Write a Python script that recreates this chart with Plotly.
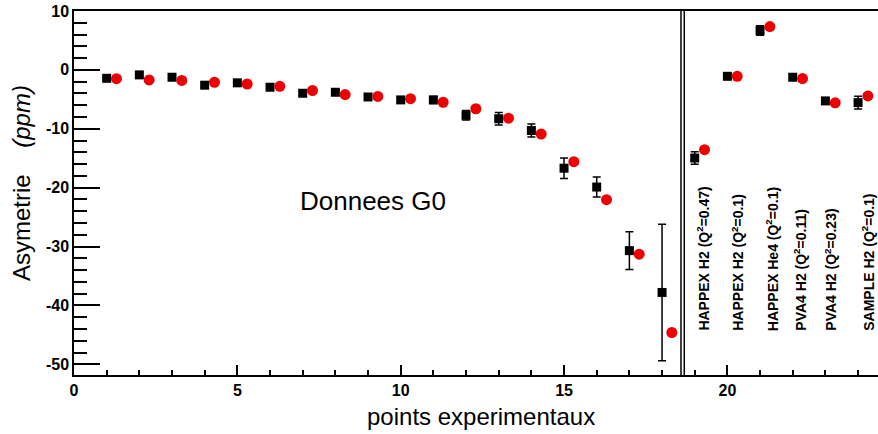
import plotly.graph_objects as go

# ---------------- data ----------------
points = list(range(1, 25))
asym_data = [-1.43, -0.85, -1.25, -2.6, -2.2, -2.95, -3.97, -3.8, -4.6, -5.1, -5.1, -7.7,
             -8.3, -10.3, -16.7, -19.9, -30.7, -37.8,
             -14.97, -1.09, 6.68, -1.25, -5.27, -5.56]
asym_err = [0.3, 0.3, 0.3, 0.35, 0.35, 0.4, 0.4, 0.45, 0.5, 0.55, 0.6, 0.8,
            1.05, 1.1, 1.75, 1.7, 3.2, 11.6,
            1.05, 0.4, 0.8, 0.4, 0.5, 1.1]
asym_model = [-1.5, -1.7, -1.8, -2.1, -2.4, -2.8, -3.5, -4.2, -4.5, -4.9, -5.5, -6.6,
              -8.2, -10.9, -15.6, -22.05, -31.3, -44.6,
              -13.55, -1.1, 7.36, -1.48, -5.6, -4.43]
exp_labels = ["HAPPEX H2 (Q<sup>2</sup>=0.47)", "HAPPEX H2 (Q<sup>2</sup>=0.1)",
              "HAPPEX He4 (Q<sup>2</sup>=0.1)", "PVA4 H2 (Q<sup>2</sup>=0.11)",
              "PVA4 H2 (Q<sup>2</sup>=0.23)", "SAMPLE H2 (Q<sup>2</sup>=0.1)"]
exp_label_x = [19.27, 20.3, 21.37, 22.24, 23.16, 24.28]
ytick_vals = [-50, -40, -30, -20, -10, 0, 10]
ytick_text = ["-50", "-40", "-30", "-20", "-10", "0", "10"]
xtick_vals = [0, 5, 10, 15, 20]
xtick_text = ["0", "5", "10", "15", "20"]
separator_x = [18.58, 18.68]

model_offset = 0.3
FONT = "Liberation Sans, Arial, Helvetica, sans-serif"

fig = go.Figure()
fig.add_trace(go.Scatter(
    x=points, y=asym_data, mode="markers",
    marker=dict(symbol="square", size=9, color="black"),
    error_y=dict(type="data", array=asym_err, visible=True, color="black",
                 thickness=1.5, width=4),
    showlegend=False))
fig.add_trace(go.Scatter(
    x=[p + model_offset for p in points], y=asym_model, mode="markers",
    marker=dict(symbol="circle", size=11, color="#ee0000"),
    showlegend=False))

for sx in separator_x:
    fig.add_shape(type="line", xref="x", yref="paper", x0=sx, x1=sx, y0=0, y1=1,
                  line=dict(color="black", width=1.5))

for lx, lt in zip(exp_label_x, exp_labels):
    fig.add_annotation(x=lx, y=-44.7, xref="x", yref="y", text="<b>" + lt + "</b>",
                       textangle=-90, showarrow=False, xanchor="center", yanchor="bottom",
                       font=dict(family=FONT, size=14, color="black"))

fig.add_annotation(x=6.86, y=-22.2, xref="x", yref="y", text="Donnees G0",
                   showarrow=False, xanchor="left", yanchor="middle",
                   font=dict(family=FONT, size=26, color="black"))

fig.add_annotation(x=-0.066, y=0.527, xref="paper", yref="paper",
                   text="Asymetrie\u00a0\u00a0\u00a0\u00a0<i>(ppm)</i>", textangle=-90,
                   showarrow=False, xanchor="center", yanchor="middle",
                   font=dict(family=FONT, size=24, color="black"))
fig.add_annotation(x=0.506, y=-0.113, xref="paper", yref="paper",
                   text="points experimentaux", showarrow=False,
                   xanchor="center", yanchor="middle",
                   font=dict(family=FONT, size=24, color="black"))

fig.update_layout(
    width=878, height=434, autosize=False,
    margin=dict(l=74, r=0, t=11, b=59, pad=0),
    paper_bgcolor="white", plot_bgcolor="white",
    font=dict(family=FONT, color="black"),
    xaxis=dict(range=[0, 24.61], showline=True, linecolor="black", linewidth=1.5,
               mirror=True, ticks="inside", ticklen=10, tickwidth=1.5, tickcolor="black",
               tickmode="array", tickvals=xtick_vals,
               ticktext=["<b>" + t + "</b>" for t in xtick_text],
               showgrid=False, zeroline=False,
               tickfont=dict(family=FONT, size=16, color="black"),
               minor=dict(tickmode="linear", tick0=0, dtick=1, ticks="inside", ticklen=5,
                          tickwidth=1.5, tickcolor="black", showgrid=False)),
    yaxis=dict(range=[-51.82, 10], showline=True, linecolor="black", linewidth=1.5,
               mirror=False, ticks="inside", ticklen=26, tickwidth=1.5, tickcolor="black",
               tickmode="array", tickvals=ytick_vals,
               ticktext=["<b>" + t + "</b>" for t in ytick_text],
               showgrid=False, zeroline=False,
               tickfont=dict(family=FONT, size=16, color="black"),
               minor=dict(tickmode="linear", tick0=0, dtick=2, ticks="inside", ticklen=13,
                          tickwidth=1.5, tickcolor="black", showgrid=False)),
)

fig.write_html("out.html", config={"displayModeBar": False},
               post_script="document.body.style.margin='0';document.body.style.overflow='hidden';")
